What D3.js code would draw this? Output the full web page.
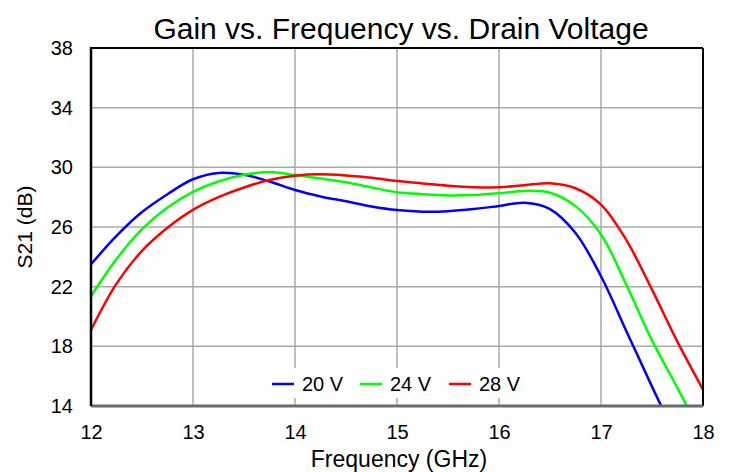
<!DOCTYPE html>
<meta charset="utf-8">
<style>
body { margin: 0; background: #fff; }
text { font-family: "Liberation Sans", Arial, sans-serif; fill: #000; }
</style>
<svg width="733" height="472"></svg>
<script src="https://d3js.org/d3.v7.min.js"></script>
<script>
// frequency points (GHz)
var freq = [12, 12.25, 12.5, 12.75, 13, 13.25, 13.5, 13.75, 14, 14.25, 14.5, 14.75,
            15, 15.25, 15.5, 15.75, 16, 16.25, 16.5, 16.75, 17, 17.25, 17.5, 17.75, 18];

// S21 (dB) per drain voltage
var v20 = [23.5, 25.4, 27.0, 28.2, 29.2, 29.62, 29.5, 29.05, 28.48, 28.05, 27.72, 27.38,
           27.14, 27.03, 27.06, 27.2, 27.41, 27.63, 27.2, 25.6, 22.7, 19.0, 15.3, 11.7, 8.0];
var v24 = [21.35, 23.85, 25.85, 27.3, 28.35, 29.05, 29.5, 29.68, 29.48, 29.25, 29.0, 28.65,
           28.33, 28.2, 28.12, 28.15, 28.26, 28.42, 28.3, 27.4, 25.5, 22.1, 18.4, 15.2, 11.9];
var v28 = [19.1, 22.2, 24.4, 25.95, 27.15, 28.0, 28.65, 29.15, 29.44, 29.53, 29.45, 29.3,
           29.08, 28.92, 28.77, 28.67, 28.66, 28.8, 28.93, 28.6, 27.5, 25.1, 21.8, 18.3, 15.1];

var seriesNames = ["20 V", "24 V", "28 V"];
var seriesColors = ["#0000ff", "#00ff00", "#ff0000"];
var xTicks = [12, 13, 14, 15, 16, 17, 18];
var yTicks = [14, 18, 22, 26, 30, 34, 38];

var svg = d3.select("svg"),
    width = +svg.attr("width"),
    height = +svg.attr("height"),
    margin = {top: 48, right: 30, bottom: 66, left: 91};

var x = d3.scaleLinear().domain([12, 18]).range([margin.left, width - margin.right]);
var y = d3.scaleLinear().domain([14, 38]).range([height - margin.bottom, margin.top]);

// grid
svg.append("g")
    .attr("stroke", "#aaaaaa")
    .attr("stroke-width", 1.5)
  .selectAll("line")
  .data(xTicks.slice(1, -1))
  .enter().append("line")
    .attr("x1", function(d) { return x(d); })
    .attr("x2", function(d) { return x(d); })
    .attr("y1", y(38))
    .attr("y2", y(14));

svg.append("g")
    .attr("stroke", "#aaaaaa")
    .attr("stroke-width", 1.5)
  .selectAll("line")
  .data(yTicks.slice(1, -1))
  .enter().append("line")
    .attr("x1", x(12))
    .attr("x2", x(18))
    .attr("y1", function(d) { return y(d); })
    .attr("y2", function(d) { return y(d); });

// legend background hides grid
svg.append("rect")
    .attr("x", 262).attr("y", 368)
    .attr("width", 274).attr("height", 30)
    .attr("fill", "#fff");

// clip
svg.append("clipPath").attr("id", "clip")
  .append("rect")
    .attr("x", x(12)).attr("y", y(38))
    .attr("width", x(18) - x(12)).attr("height", y(14) - y(38));

var line = d3.line()
    .x(function(d) { return x(d[0]); })
    .y(function(d) { return y(d[1]); })
    .curve(d3.curveCatmullRom.alpha(0.5));

[v20, v24, v28].forEach(function(vals, i) {
  svg.append("path")
      .datum(freq.map(function(f, j) { return [f, vals[j]]; }))
      .attr("clip-path", "url(#clip)")
      .attr("fill", "none")
      .attr("stroke", seriesColors[i])
      .attr("stroke-width", 2.5)
      .attr("d", line);
});

// frame
svg.append("line")
    .attr("x1", x(12)).attr("x2", x(18))
    .attr("y1", y(38)).attr("y2", y(38))
    .attr("stroke", "#000").attr("stroke-width", 2);
svg.append("line")
    .attr("x1", x(18)).attr("x2", x(18))
    .attr("y1", y(38)).attr("y2", y(14))
    .attr("stroke", "#000").attr("stroke-width", 2);
svg.append("line")
    .attr("x1", x(12)).attr("x2", x(18))
    .attr("y1", y(14)).attr("y2", y(14))
    .attr("stroke", "#6a6a6a").attr("stroke-width", 3);
svg.append("line")
    .attr("x1", x(12)).attr("x2", x(12))
    .attr("y1", y(38) - 1).attr("y2", y(14))
    .attr("stroke", "#000").attr("stroke-width", 2.5);

// axes
var xAxis = svg.append("g")
    .attr("transform", "translate(0," + y(14) + ")")
    .call(d3.axisBottom(x).tickValues(xTicks).tickFormat(d3.format("d")).tickSize(0).tickPadding(19));
xAxis.select(".domain").remove();
xAxis.selectAll("text")
    .style("font-family", "'Liberation Sans', Arial, sans-serif")
    .style("font-size", "20px");

var yAxis = svg.append("g")
    .attr("transform", "translate(" + x(12) + ",0)")
    .call(d3.axisLeft(y).tickValues(yTicks).tickFormat(d3.format("d")).tickSize(0).tickPadding(18));
yAxis.select(".domain").remove();
yAxis.selectAll("text")
    .style("font-family", "'Liberation Sans', Arial, sans-serif")
    .style("font-size", "20px");

// titles
svg.append("text")
    .attr("x", 401).attr("y", 39)
    .attr("text-anchor", "middle")
    .style("font-size", "30px")
    .text("Gain vs. Frequency vs. Drain Voltage");

svg.append("text")
    .attr("x", 399).attr("y", 467)
    .attr("text-anchor", "middle")
    .style("font-size", "23px")
    .text("Frequency (GHz)");

svg.append("text")
    .attr("transform", "translate(32," + ((y(14) + y(38)) / 2) + ") rotate(-90)")
    .attr("text-anchor", "middle")
    .style("font-size", "21px")
    .text("S21 (dB)");

// legend
var legendX = [272, 360, 449];
var legend = svg.append("g");
seriesNames.forEach(function(name, i) {
  legend.append("line")
      .attr("x1", legendX[i]).attr("x2", legendX[i] + 22)
      .attr("y1", 384).attr("y2", 384)
      .attr("stroke", seriesColors[i])
      .attr("stroke-width", 2.5);
  legend.append("text")
      .attr("x", legendX[i] + 30).attr("y", 391)
      .style("font-size", "20px")
      .text(name);
});
</script>
